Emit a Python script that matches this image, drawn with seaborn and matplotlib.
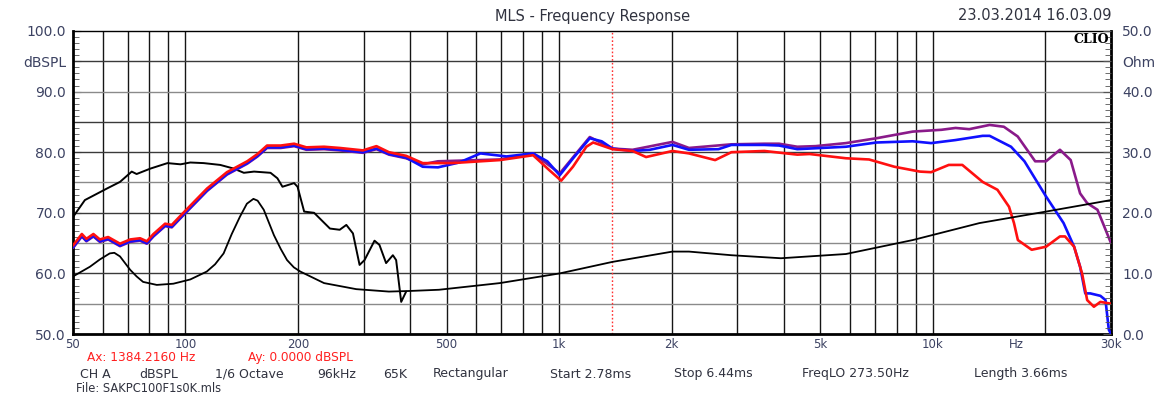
import numpy as np
import pandas as pd
import matplotlib
matplotlib.use("Agg")
import matplotlib.pyplot as plt
import seaborn as sns

# ---------------- data ----------------
red_f = [50, 52.8, 54.3, 56.7, 59.0, 62.1, 66.8, 71.1, 75.6, 78.8, 82.1, 88.2, 91.9, 98.0, 114.2,
         129.1, 146.3, 155.9, 165.3, 179.9, 195.4, 210.7, 234.9, 258.7, 298.5, 324.4, 350.4, 389.6,
         431.4, 516, 694, 852, 939, 1013, 1089, 1183, 1233, 1389, 1573, 1709, 2011, 2226, 2616,
         2892, 3544, 4340, 4681, 5856, 6753, 7894, 9238, 9900, 11040, 12000, 13600, 14900, 16000,
         16500, 16900, 18400, 20100, 21900, 22600, 23900, 25100, 25900, 27000, 28100, 30000]
red_db = [64.6, 66.5, 65.7, 66.5, 65.6, 66.0, 64.9, 65.6, 65.8, 65.3, 66.5, 68.2, 68.0, 69.8, 74.0,
          76.7, 78.5, 79.7, 81.1, 81.1, 81.4, 80.8, 80.9, 80.7, 80.3, 81.0, 80.0, 79.4,
          78.2, 78.2, 78.7, 79.5, 77.1, 75.3, 77.6, 80.9, 81.6, 80.5, 80.2, 79.2, 80.2, 79.8, 78.7,
          80.0, 80.2, 79.6, 79.7, 79.0, 78.8, 77.6, 76.8, 76.7, 77.9, 77.9, 75.1, 73.8, 71.0,
          68.3, 65.5, 63.9, 64.4, 66.1, 66.1, 64.4, 60.0, 55.6, 54.5, 55.3, 55.0]

blue_f = [50, 52.8, 54.3, 56.7, 59.0, 62.1, 66.8, 71.1, 75.6, 78.8, 82.1, 88.2, 91.9, 98.0, 114.2,
          129.1, 146.3, 155.9, 165.3, 179.9, 195.4, 210.7, 234.9, 258.7, 298.5, 324.4, 350.4, 389.6,
          431.4, 474, 540, 616, 723, 852, 930, 1004, 1090, 1208, 1300, 1389, 1573, 1750, 2011, 2226,
          2670, 2892, 3544, 3879, 4340, 5856, 7064, 8837, 9900, 11500, 13600, 14200, 16200, 17600,
          20100, 22400, 23900, 24800, 25600, 26400, 28100, 29000, 29600, 30000]
blue_db = [64.3, 66.2, 65.4, 66.2, 65.3, 65.7, 64.6, 65.3, 65.5, 65.0, 66.2, 67.9, 67.7, 69.5, 73.7,
           76.4, 78.2, 79.4, 80.8, 80.8, 81.1, 80.5, 80.6, 80.4, 80.0, 80.6, 79.7, 79.1,
           77.6, 77.5, 78.3, 79.8, 79.3, 79.8, 78.5, 76.2, 79.0, 82.3, 81.8, 80.6, 80.2, 80.4, 81.2, 80.4,
           80.5, 81.2, 81.2, 81.1, 80.5, 80.9, 81.6, 81.8, 81.5, 82.0, 82.7, 82.7, 80.9, 78.5,
           72.7, 68.3, 64.4, 61.1, 56.7, 56.7, 56.3, 55.6, 50.7, 50.0]

purple_f = [50, 52.8, 54.3, 56.7, 59.0, 62.1, 66.8, 71.1, 75.6, 78.8, 82.1, 88.2, 91.9, 98.0, 114.2,
            129.1, 146.3, 155.9, 165.3, 179.9, 195.4, 210.7, 234.9, 258.7, 298.5, 324.4, 350.4, 389.6,
            431.4, 474, 694, 852, 1004, 1208, 1389, 1573, 2011, 2226, 2892, 3544, 3879, 4340, 4856,
            5856, 7064, 8837, 10560, 11510, 12520, 14200, 15500, 16880, 18800, 20100, 21900, 23400,
            24800, 25900, 27600, 30000]
purple_db = [64.2, 66.1, 65.3, 66.1, 65.2, 65.6, 64.5, 65.2, 65.4, 64.9, 66.1, 67.8, 67.6, 69.4, 73.6,
             76.3, 78.1, 79.3, 80.7, 80.7, 81.0, 80.4, 80.5, 80.3, 79.9, 80.5, 79.6, 79.0,
             78.0, 78.5, 78.8, 79.8, 76.5, 82.5, 80.6, 80.4, 81.7, 80.7, 81.3, 81.4, 81.4, 80.9, 81.0,
             81.5, 82.3, 83.4, 83.7, 84.0, 83.8, 84.5, 84.2, 82.6, 78.5, 78.5, 80.4, 78.7,
             73.2, 71.6, 70.5, 65.0]

black_f = [50, 53.8, 61.6, 66.8, 71.8, 74.0, 80.6, 89.5, 97.0, 103.0, 111.9, 123.9, 134.6, 143.3,
           152.6, 168.9, 176.2, 181.8, 195.3, 199.5, 207.8, 220.9, 243.6, 258.7, 269.5, 280.7, 292.4,
           301.5, 320.6, 330.5, 344.3, 359, 366.3, 377.9, 389.6]
black_db = [69.3, 72.1, 74.0, 75.1, 76.8, 76.4, 77.3, 78.2, 78.0, 78.3, 78.2, 77.9, 77.3, 76.6,
            76.8, 76.6, 75.7, 74.3, 74.9, 74.3, 70.2, 70.0, 67.4, 67.2, 68.0, 66.6, 61.4,
            62.2, 65.4, 64.7, 61.7, 63.0, 62.2, 55.3, 57.0]

imp_f = [50, 55.5, 59, 62.7, 64.5, 66.8, 71.1, 74, 77, 83.8, 92.8, 103, 114, 120, 126.5, 133, 140,
         146, 152, 156, 162, 172.5, 180, 187, 195, 203, 234.9, 286.5, 350.4, 398, 477, 694, 1004,
         1389, 2011, 2226, 2892, 3924, 5856, 8837, 13330, 20100, 30000]
imp_ohm = [9.5, 11.1, 12.3, 13.3, 13.4, 12.8, 10.6, 9.5, 8.6, 8.1, 8.3, 9.0, 10.3, 11.5, 13.3, 16.5, 19.4,
           21.5, 22.3, 22.0, 20.5, 16.3, 14.0, 12.2, 11.0, 10.3, 8.4, 7.4, 7.0, 7.1, 7.3, 8.4, 10.0,
           11.9, 13.6, 13.6, 13.0, 12.5, 13.2, 15.5, 18.3, 20.2, 22.1]

x_ticks = [50, 100, 200, 500, 1000, 2000, 5000, 10000, 30000]
x_labels = ["50", "100", "200", "500", "1k", "2k", "5k", "10k", "30k"]
x_unit = "Hz"
y_ticks = [50, 60, 70, 80, 90, 95, 100]
y_labels = ["50.0", "60.0", "70.0", "80.0", "90.0", "dBSPL", "100.0"]
z_ticks = [0, 10, 20, 30, 40, 45, 50]
z_labels = ["0.0", "10.0", "20.0", "30.0", "40.0", "Ohm", "50.0"]
cursor_hz = 1384.2160
cursor_texts = ["Ax: 1384.2160 Hz", "Ay: 0.0000 dBSPL"]
info_texts = ["CH A", "dBSPL", "1/6 Octave", "96kHz", "65K", "Rectangular",
              "Start 2.78ms", "Stop 6.44ms", "FreqLO 273.50Hz", "Length 3.66ms"]
file_text = "File: SAKPC100F1s0K.mls"

# ---------------- figure ----------------
sns.set_style("white")
plt.rcParams["font.family"] = ["DejaVu Sans"]
lab_col = "#3c4262"
txt_col = "#30323f"

W, H = 1167, 394
fig = plt.figure(figsize=(W / 100, H / 100), dpi=100)
ax = fig.add_axes([73 / W, (H - 334) / H, (1111 - 73) / W, (334 - 31) / H])
ax.set_xscale("log")
ax.set_xlim(50, 30000)
ax.set_ylim(50, 100)

# grid
vgrid = list(range(60, 100, 10)) + list(range(100, 1000, 100)) + list(range(1000, 10000, 1000)) + [10000, 20000]
for v in vgrid:
    ax.axvline(v, color="#151515", lw=1.0, zorder=1)
for h in range(55, 100, 5):
    ax.axhline(h, color="#8a8a8a" if h in (55, 65, 75, 90) else "#3a3a3a", lw=1.0, zorder=1)
ax.axvline(cursor_hz, color="#ff3030", lw=1.0, ls=(0, (1.2, 1.5)), zorder=2)

def df(f, v):
    return pd.DataFrame({"f": f, "v": v})

sns.lineplot(data=df(black_f, black_db), x="f", y="v", ax=ax, color="black", lw=1.4, sort=False, zorder=3)
sns.lineplot(data=df(purple_f, purple_db), x="f", y="v", ax=ax, color="#8a1a8a", lw=1.9, sort=False, zorder=4)
sns.lineplot(data=df(blue_f, blue_db), x="f", y="v", ax=ax, color="#1010ff", lw=1.9, sort=False, zorder=5)
sns.lineplot(data=df(red_f, red_db), x="f", y="v", ax=ax, color="#ff1010", lw=1.9, sort=False, zorder=6)
ax.set_xlabel("")
ax.set_ylabel("")

# impedance on right axis
ax2 = ax.twinx()
ax2.set_ylim(0, 50)
sns.lineplot(data=df(imp_f, imp_ohm), x="f", y="v", ax=ax2, color="black", lw=1.3, sort=False)
ax2.set_ylabel("")
ax2.set_xlabel("")

# axis formatting (after plotting so nothing resets it)
ax.set_xscale("log")
ax.set_xlim(50, 30000)
ax.set_xticks(x_ticks)
ax.set_xticklabels(x_labels)
ax.xaxis.set_minor_locator(matplotlib.ticker.NullLocator())
ax.set_yticks(y_ticks)
ax.set_yticklabels(y_labels)
ax.set_yticks(np.arange(50, 101, 1), minor=True)
ax.tick_params(axis="x", which="both", length=0, pad=3, labelsize=8.5, labelcolor=lab_col)
ax.tick_params(axis="y", which="major", direction="in", length=6, color="#555", pad=5,
               labelsize=10, labelcolor=lab_col)
ax.tick_params(axis="y", which="minor", direction="in", length=4, color="#555")
for s in ax.spines.values():
    s.set_color("black")
    s.set_linewidth(1.0)
ax.spines["left"].set_linewidth(2.0)
ax.spines["bottom"].set_linewidth(2.0)
ax.spines["right"].set_linewidth(2.0)

ax2.set_yticks(z_ticks)
ax2.set_yticklabels(z_labels)
ax2.set_yticks(np.arange(0, 51, 1), minor=True)
ax2.tick_params(axis="y", which="major", direction="in", length=6, color="#555", pad=8,
                labelsize=10, labelcolor=lab_col)
ax2.tick_params(axis="y", which="minor", direction="in", length=4, color="#555")
ax2.tick_params(axis="x", which="both", bottom=False, top=False, labelbottom=False, labeltop=False)
for s in ax2.spines.values():
    s.set_visible(False)

def px(x, y):
    return x / W, 1 - y / H

# texts
fig.text(*px(593, 16), "MLS - Frequency Response", ha="center", va="center", fontsize=10.5, color=txt_col)
fig.text(*px(1112, 16), "23.03.2014 16.03.09", ha="right", va="center", fontsize=10.5, color=txt_col)
fig.text(*px(1109, 33), "CLIO", ha="right", va="top", fontsize=9, fontweight="bold",
         family=["DejaVu Serif"], color="black", zorder=10)
fig.text(*px(1016, 344.5), x_unit, ha="center", va="center", fontsize=8.5, color=lab_col)

cursor_x = [87, 248]
for xx, t in zip(cursor_x, cursor_texts):
    fig.text(*px(xx, 357.5), t, ha="left", va="center", fontsize=8.7, color="#ff2020")
info_x = [80, 139, 215, 317.5, 383.5, 433, 549.5, 674.5, 802.5, 974]
for xx, t in zip(info_x, info_texts):
    fig.text(*px(xx, 374), t, ha="left", va="center", fontsize=9, color=txt_col)
fig.text(*px(76, 388.2), file_text, ha="left", va="center", fontsize=8.3, color=txt_col)

fig.savefig("out.png", dpi=100)
